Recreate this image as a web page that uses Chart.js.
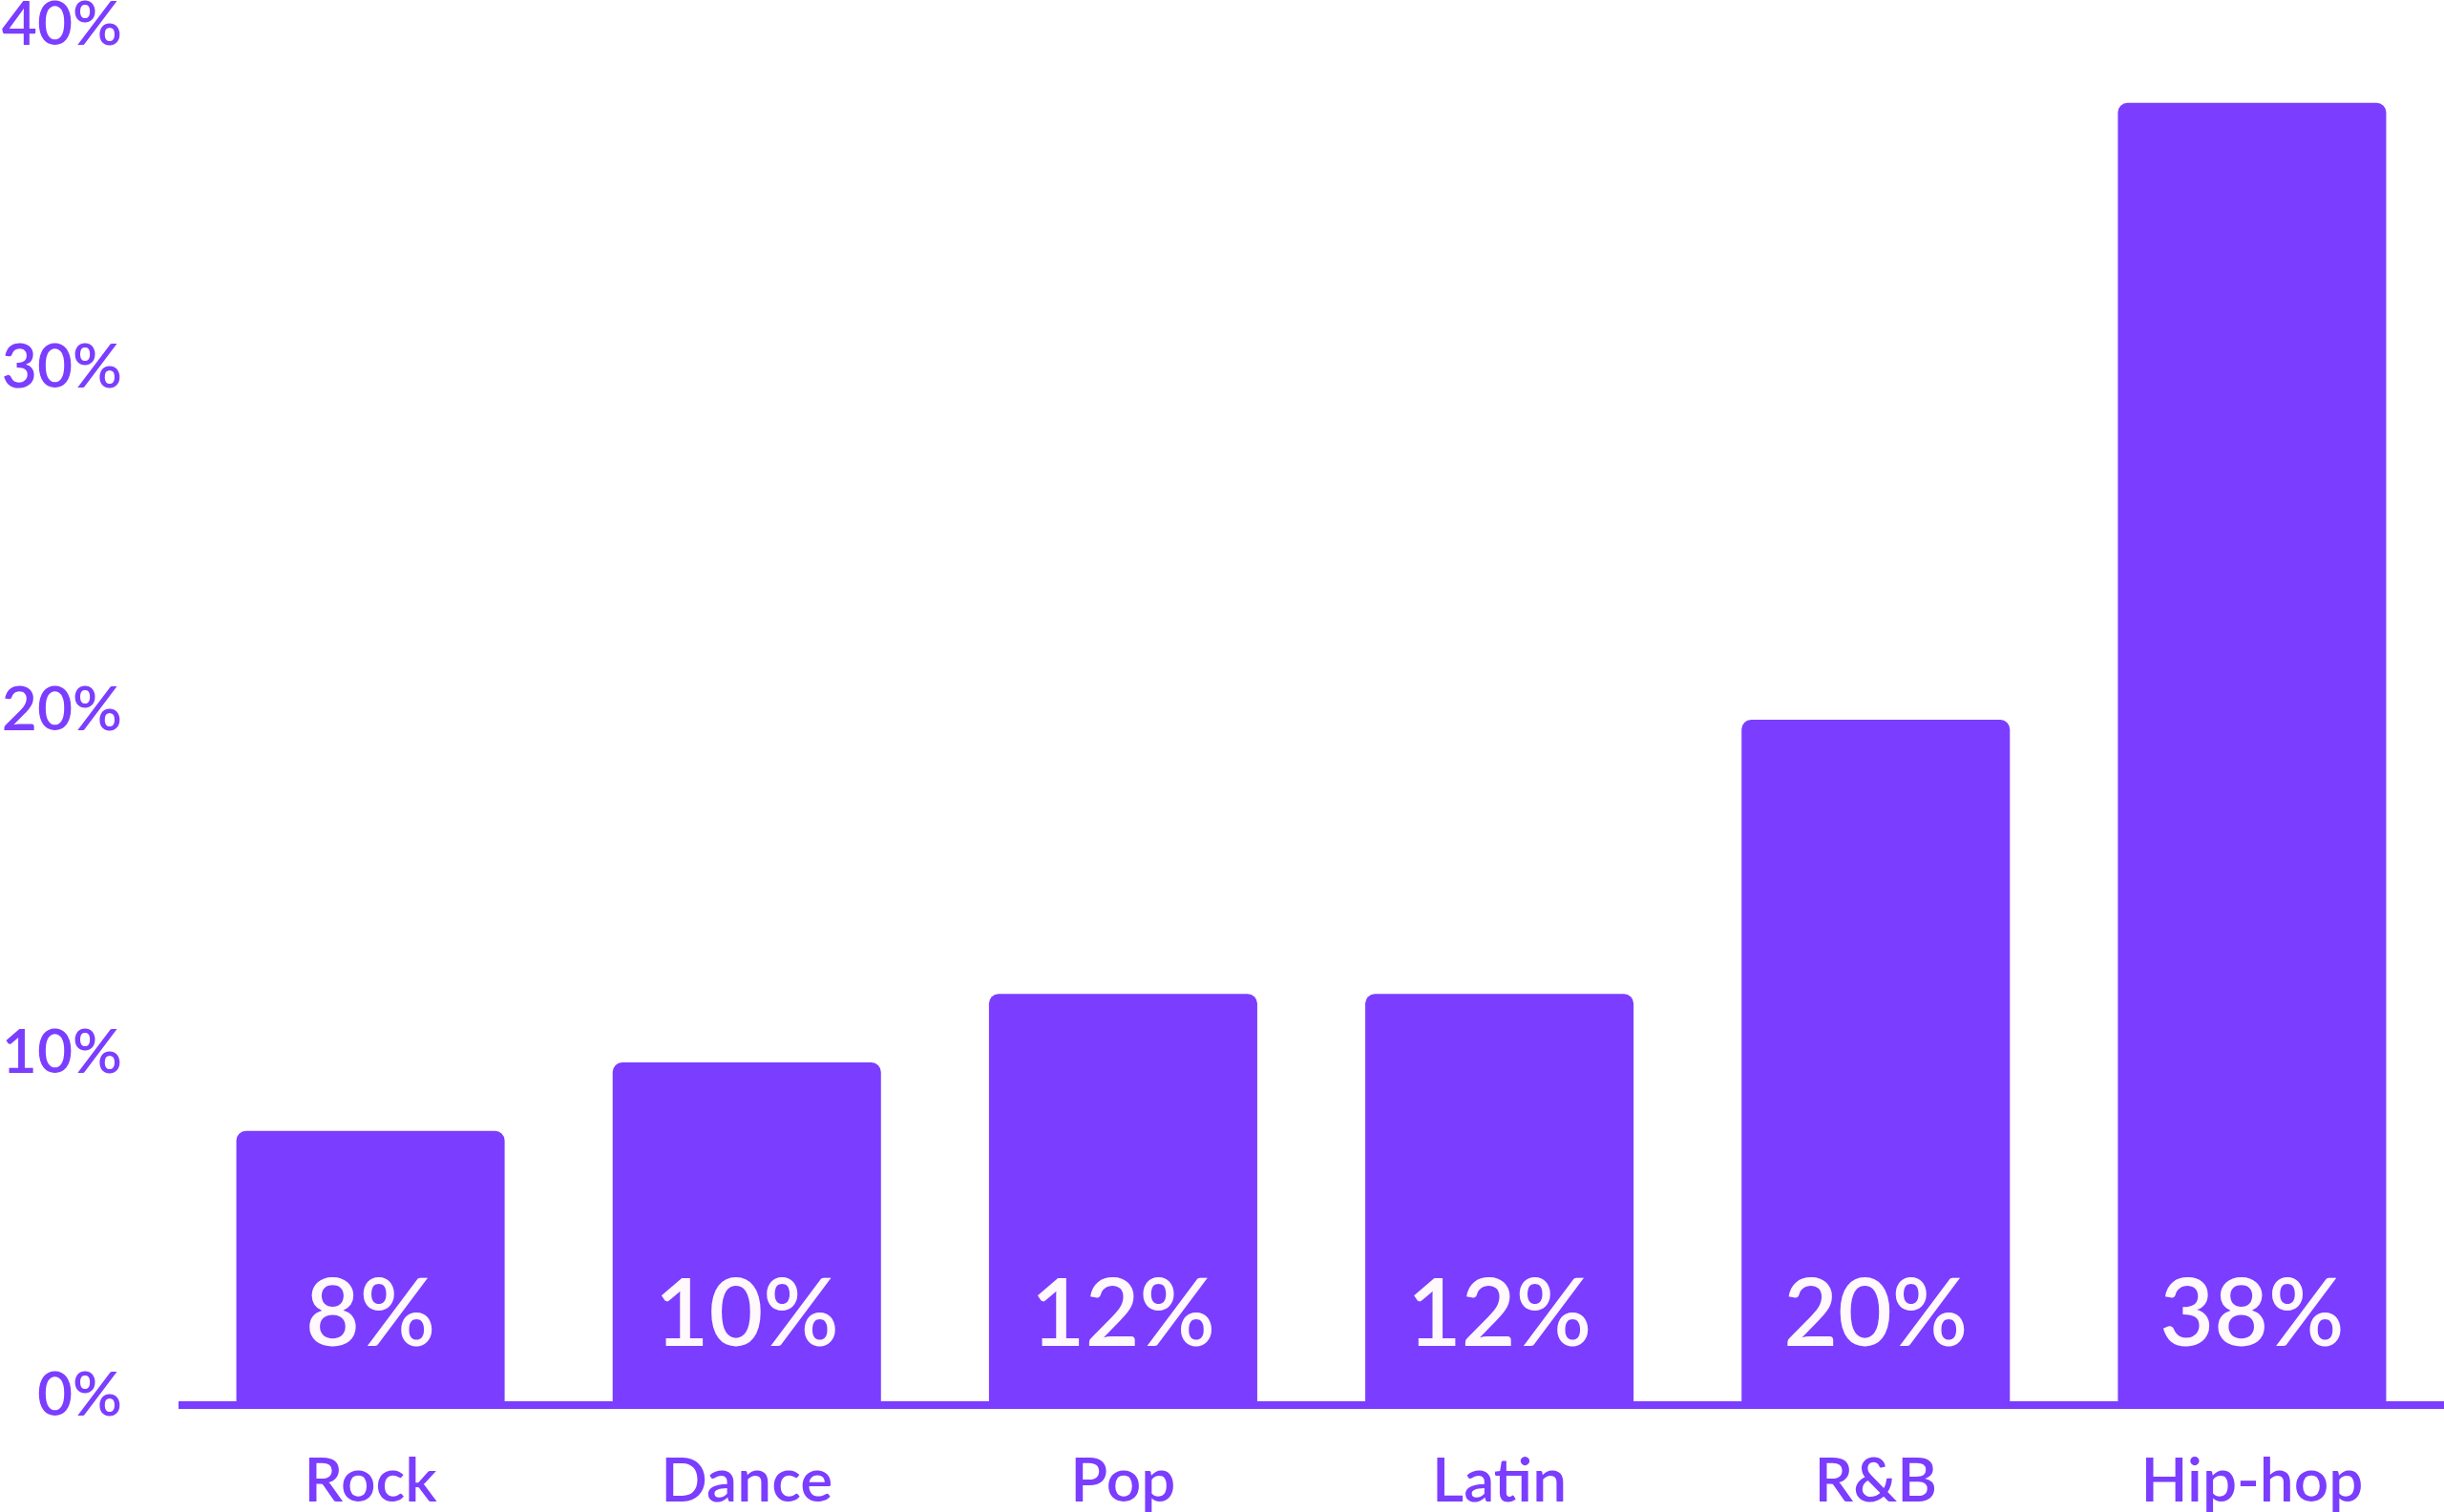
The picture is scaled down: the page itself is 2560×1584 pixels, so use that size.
<!DOCTYPE html>
<html>
<head>
<meta charset="utf-8">
<script src="https://cdn.jsdelivr.net/npm/chart.js@4.4.0/dist/chart.umd.min.js"></script>
<style>
html,body{margin:0;padding:0;background:#fff;}
#wrap{width:2560px;height:1584px;position:relative;}
</style>
</head>
<body>
<div id="wrap"><canvas id="c" width="2560" height="1584"></canvas></div>
<script>
const categories = ["Rock", "Dance", "Pop", "Latin", "R&B", "Hip-hop"];
const shares = [8, 10, 12, 12, 20, 38];
const yTicks = [0, 10, 20, 30, 40];

const PURPLE = "#7b3dff";
const FONT = "Lato, Inter, sans-serif";

const valueLabels = {
  id: "valueLabels",
  afterDatasetsDraw(chart) {
    const ctx = chart.ctx;
    const meta = chart.getDatasetMeta(0);
    const y0 = chart.scales.y.getPixelForValue(0);
    ctx.save();
    ctx.fillStyle = "#fff8fc";
    ctx.font = "600 98px " + FONT;
    ctx.textAlign = "center";
    ctx.textBaseline = "middle";
    meta.data.forEach((bar, i) => {
      ctx.fillText(shares[i] + "%", bar.x, y0 - 94);
    });
    ctx.restore();
  }
};

const baseLine = {
  id: "baseLine",
  afterDatasetsDraw(chart) {
    const ctx = chart.ctx;
    const y0 = chart.scales.y.getPixelForValue(0);
    ctx.save();
    ctx.fillStyle = PURPLE;
    ctx.fillRect(chart.chartArea.left - 4, y0 - 4, chart.width - chart.chartArea.left + 4, 8);
    ctx.restore();
  }
};

new Chart(document.getElementById("c"), {
  type: "bar",
  data: {
    labels: categories,
    datasets: [{
      data: shares,
      backgroundColor: PURPLE,
      borderRadius: {topLeft: 10, topRight: 10, bottomLeft: 0, bottomRight: 0},
      borderSkipped: "bottom",
      categoryPercentage: 0.713,
      barPercentage: 1.0
    }]
  },
  options: {
    responsive: false,
    animation: false,
    devicePixelRatio: 1,
    layout: {padding: {left: 0, right: 4, top: 36, bottom: 0}},
    plugins: {legend: {display: false}, tooltip: {enabled: false}},
    scales: {
      x: {
        grid: {display: false, drawTicks: false},
        border: {display: false},
        ticks: {
          color: PURPLE,
          font: {family: FONT, size: 64, weight: 600},
          padding: 42,
          maxRotation: 0
        },
        afterFit(scale) { scale.height = 112; scale.paddingLeft = 0; scale.paddingRight = 0; }
      },
      y: {
        min: 0,
        max: 40,
        afterBuildTicks(scale) { scale.ticks = yTicks.map(v => ({value: v})); },
        grid: {display: false, drawTicks: false},
        border: {display: false},
        ticks: {
          color: PURPLE,
          font: {family: FONT, size: 64, weight: 600},
          padding: 63,
          labelOffset: -10,
          callback: v => v + "%"
        },
        afterFit(scale) { scale.width = 191; scale.paddingTop = 0; scale.paddingBottom = 0; }
      }
    }
  },
  plugins: [valueLabels, baseLine]
});
</script>
</body>
</html>
